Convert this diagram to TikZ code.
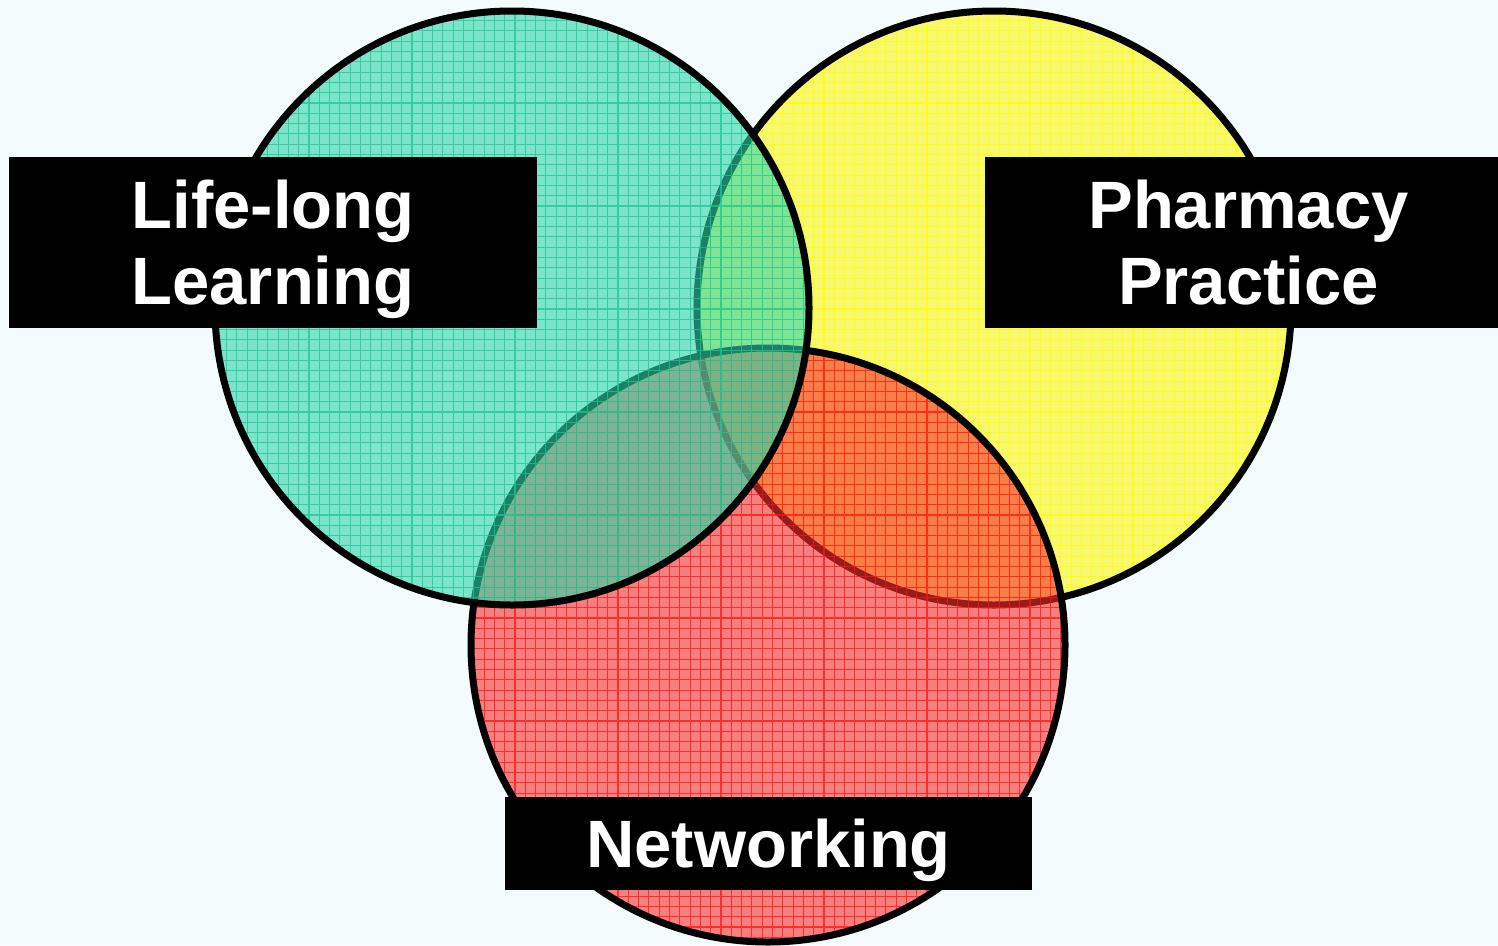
\documentclass[tikz,border=0pt]{standalone}
\usepackage{fontspec}
\setmainfont{Liberation Sans}

\definecolor{bgpale}{RGB}{243,251,252}
\definecolor{ringgreen}{RGB}{46,214,170}
\definecolor{ringyellow}{RGB}{251,246,19}
\definecolor{ringred}{RGB}{251,46,45}
\definecolor{gridgreen}{RGB}{25,200,145}
\definecolor{gridyellow}{RGB}{255,255,0}
\definecolor{gridred}{RGB}{255,20,20}

\tikzset{
    ringfill/.style={fill=#1, fill opacity=0.6},
    ringgrid/.style={draw=#1, line width=1.1pt, opacity=0.75},
    ringline/.style={draw=black, line width=7pt},
    tagbox/.style={fill=black, text=white, align=center, inner sep=0pt, text depth=0pt,
        font=\fontsize{67}{76}\selectfont\bfseries},
}

\begin{document}
\begin{tikzpicture}[x=1pt, y=-1pt]
    \fill [bgpale] (0,0) rectangle (1498,945);
    \useasboundingbox (0,0) rectangle (1498,945);

    % yellow first, red over it, green on top
    \foreach \cx/\cy/\col/\gcol in {994/308/ringyellow/gridyellow, 768/645/ringred/gridred, 512/308/ringgreen/gridgreen} {
        \fill [ringfill=\col] (\cx,\cy) circle (297pt);
        \begin{scope}
            \clip (\cx,\cy) circle (297pt);
            \draw [ringgrid=\gcol, step=10.3pt] (\cx-300,\cy-300) grid (\cx+300,\cy+300);
        \end{scope}
        \draw [ringline] (\cx,\cy) circle (297pt);
    }

    \node [tagbox, minimum width=528pt, minimum height=171pt] (lifelong) at (273,242.5) {Life-long\\Learning};
    \node [tagbox, minimum width=513pt, minimum height=171pt] (pharmacy) at (1241.5,242.5) {\hspace*{14pt}Pharmacy\\\hspace*{14pt}Practice};
    \node [tagbox, minimum width=527pt, minimum height=93pt] (networking) at (768.5,843.5) {Networking};
\end{tikzpicture}
\end{document}
